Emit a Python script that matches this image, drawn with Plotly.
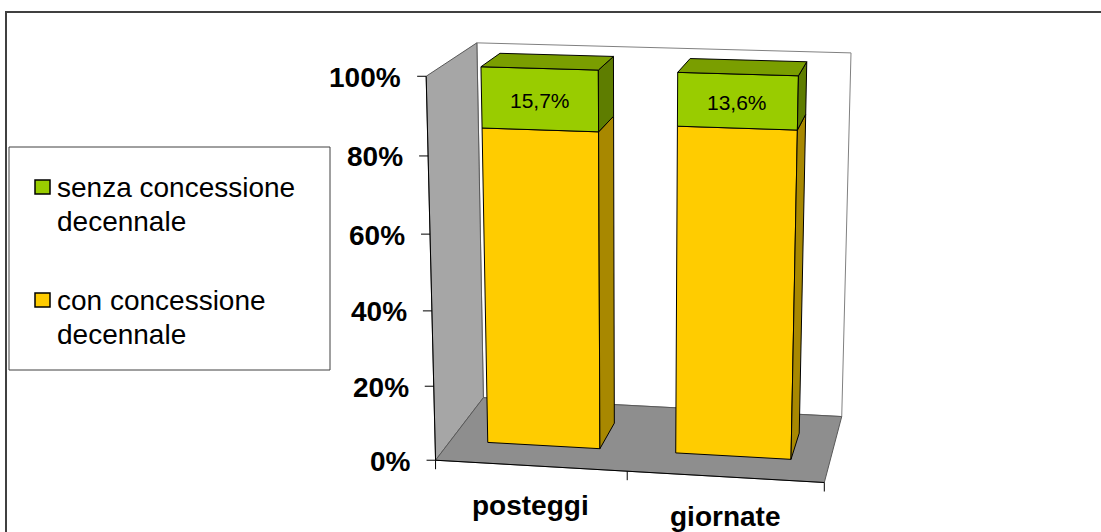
import numpy as np
import plotly.graph_objects as go

# ---- data -----------------------------------------------------------------
categories = ["posteggi", "giornate"]
con_concessione = [84.3, 86.4]      # % con concessione decennale
senza_concessione = [15.7, 13.6]    # % senza concessione decennale
data_labels = ["15,7%", "13,6%"]
value_ticks = [0, 20, 40, 60, 80, 100]
value_tick_labels = ["0%", "20%", "40%", "60%", "80%", "100%"]
legend_lines = [["senza concessione", "decennale"], ["con concessione", "decennale"]]

# ---- styling ----------------------------------------------------------------
FONT = "Liberation Sans, Arial, sans-serif"
GREEN_FRONT, GREEN_TOP, GREEN_SIDE = "#99CC00", "#7A9E00", "#5E7D00"
YELLOW_FRONT, YELLOW_SIDE = "#FFCC00", "#A88800"
WALL, FLOOR = "#A6A6A6", "#8E8E8E"
W, H = 1101, 532

# ---- 3-D frame: world box X in [0, n], Y in [0, 1] (share), Z in [0, 1] (depth)
n = len(categories)
frame_world = np.array([
    [0, 0, 0], [0, 1, 0], [0, 1, 1], [0, 0, 1],
    [n, 0, 0], [n, 0, 1], [n, 1, 1],
], dtype=float)
frame_screen = np.array([
    [436, 460], [426, 76], [477, 43], [483, 398],
    [824, 483], [842, 416], [851, 53],
], dtype=float)

# direct linear transform for a perspective camera
rows, rhs = [], []
for (X, Y, Z), (u, v) in zip(frame_world, frame_screen):
    rows.append([X, Y, Z, 1, 0, 0, 0, 0, -u * X, -u * Y, -u * Z]); rhs.append(u)
    rows.append([0, 0, 0, 0, X, Y, Z, 1, -v * X, -v * Y, -v * Z]); rhs.append(v)
P = np.linalg.lstsq(np.array(rows), np.array(rhs), rcond=None)[0]


def proj(X, Y, Z):
    d = P[8] * X + P[9] * Y + P[10] * Z + 1
    return ((P[0] * X + P[1] * Y + P[2] * Z + P[3]) / d,
            (P[4] * X + P[5] * Y + P[6] * Z + P[7]) / d)


fig = go.Figure()


def polygon(corners, fill, line="#000000", width=1):
    pts = [proj(*c) for c in corners] + [proj(*corners[0])]
    fig.add_trace(go.Scatter(
        x=[p[0] for p in pts], y=[p[1] for p in pts], mode="lines",
        fill="toself", fillcolor=fill, line=dict(color=line, width=width),
        hoverinfo="skip", showlegend=False))


def segment(a, b, color="#000000", width=1):
    fig.add_trace(go.Scatter(
        x=[a[0], b[0]], y=[a[1], b[1]], mode="lines",
        line=dict(color=color, width=width), hoverinfo="skip", showlegend=False))


# walls and floor
polygon([(0, 0, 1), (0, 1, 1), (n, 1, 1), (n, 0, 1)], "#FFFFFF", "#808080")
polygon([(0, 0, 0), (0, 1, 0), (0, 1, 1), (0, 0, 1)], WALL, "#595959")
polygon([(0, 0, 0), (n, 0, 0), (n, 0, 1), (0, 0, 1)], FLOOR, "#595959")

# value axis with ticks and labels
segment(proj(0, 0, 0), proj(0, 1, 0), "#000000")
for t, lab in zip(value_ticks, value_tick_labels):
    x, y = proj(0, t / 100, 0)
    segment((x - 9, y), (x, y))
    fig.add_annotation(x=x - 23, y=y + 1, text=f"<b>{lab}</b>", showarrow=False,
                       xanchor="right", yanchor="middle",
                       font=dict(family=FONT, size=28, color="#000000"))

# category axis ticks and labels
segment(proj(0, 0, 0), proj(n, 0, 0), "#000000")
for k in range(n + 1):
    x, y = proj(k, 0, 0)
    segment((x, y), (x, y + 9))
for i, cat in enumerate(categories):
    x, y = proj(i + 0.5, 0, 0)
    fig.add_annotation(x=x, y=y + 40, text=f"<b>{cat}</b>", showarrow=False,
                       xanchor="center", yanchor="middle",
                       font=dict(family=FONT, size=28, color="#000000"))

# stacked 3-D columns
HALF_W, Z0, Z1 = 0.3, 0.3, 0.7
for i in range(n):
    c = i + 0.5
    x0, x1 = c - HALF_W, c + HALF_W
    lo = con_concessione[i] / 100
    hi = lo + senza_concessione[i] / 100
    for ya, yb, front, side in [(0, lo, YELLOW_FRONT, YELLOW_SIDE),
                                (lo, hi, GREEN_FRONT, GREEN_SIDE)]:
        polygon([(x0, ya, Z0), (x1, ya, Z0), (x1, yb, Z0), (x0, yb, Z0)], front)
        polygon([(x1, ya, Z0), (x1, ya, Z1), (x1, yb, Z1), (x1, yb, Z0)], side)
    polygon([(x0, hi, Z0), (x1, hi, Z0), (x1, hi, Z1), (x0, hi, Z1)], GREEN_TOP)
    lx, ly = proj(c, (lo + hi) / 2, Z0)
    fig.add_annotation(x=lx, y=ly + 1, text=data_labels[i], showarrow=False,
                       xanchor="center", yanchor="middle",
                       font=dict(family=FONT, size=21, color="#000000"))

# legend box
fig.add_shape(type="rect", x0=9, y0=147, x1=330, y1=370,
              line=dict(color="#404040", width=1), fillcolor="#FFFFFF", layer="below")
for (line1, line2), color, yc in zip(legend_lines, [GREEN_FRONT, YELLOW_FRONT], [187, 300]):
    fig.add_shape(type="rect", x0=35, y0=yc - 7, x1=50, y1=yc + 7,
                  line=dict(color="#000000", width=1.5), fillcolor=color)
    for txt, yy in [(line1, yc), (line2, yc + 34)]:
        fig.add_annotation(x=55, y=yy, text=txt, showarrow=False, xanchor="left",
                           yanchor="middle", font=dict(family=FONT, size=28, color="#000000"))

# chart-area border
fig.add_shape(type="rect", x0=6, y0=12, x1=1130, y1=560,
              line=dict(color="#404040", width=2), layer="below")

fig.update_layout(
    width=W, height=H, margin=dict(l=0, r=0, t=0, b=0),
    paper_bgcolor="#FFFFFF", plot_bgcolor="#FFFFFF", showlegend=False,
    xaxis=dict(range=[0, W], visible=False, fixedrange=True),
    yaxis=dict(range=[H, 0], visible=False, fixedrange=True),
)
fig.write_html("out.html")
